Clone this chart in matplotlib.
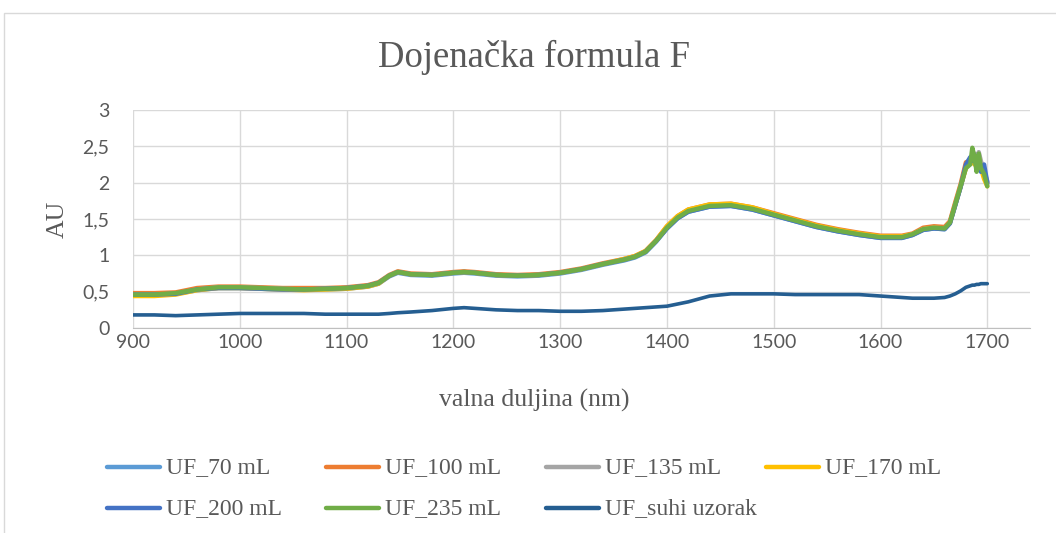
"""Dojenačka formula F - NIR spectra (UF samples vs dry sample)."""
import matplotlib
matplotlib.use("Agg")
import matplotlib.pyplot as plt
from matplotlib.lines import Line2D
from matplotlib.patches import Rectangle

# wavelength grid (nm)
wl = [900, 920, 940, 960, 980, 1000, 1020, 1040, 1060, 1080, 1100, 1120, 1130,
      1140, 1148, 1160, 1180, 1200, 1210, 1220, 1240, 1260, 1280, 1300, 1320,
      1340, 1360, 1370, 1380, 1390, 1400, 1410, 1420, 1440, 1460, 1480, 1500,
      1520, 1540, 1560, 1580, 1600, 1620, 1630, 1640, 1650, 1660, 1665, 1670,
      1675, 1680, 1684, 1686, 1688, 1690, 1692, 1694, 1697, 1700]

uf_70 = [0.46, 0.46, 0.47, 0.52, 0.55, 0.55, 0.54, 0.53, 0.53, 0.53, 0.54, 0.57, 0.61,
         0.71, 0.76, 0.73, 0.72, 0.75, 0.76, 0.75, 0.72, 0.71, 0.72, 0.75, 0.80,
         0.87, 0.93, 0.97, 1.04, 1.19, 1.37, 1.51, 1.60, 1.67, 1.68, 1.63, 1.55,
         1.47, 1.39, 1.33, 1.28, 1.24, 1.24, 1.28, 1.35, 1.37, 1.36, 1.44, 1.69,
         1.94, 2.22, 2.30, 2.35, 2.30, 2.22, 2.35, 2.20, 2.12, 1.98]
uf_100 = [0.48, 0.48, 0.49, 0.55, 0.57, 0.57, 0.56, 0.55, 0.55, 0.55, 0.56, 0.59, 0.63,
          0.73, 0.78, 0.75, 0.74, 0.77, 0.78, 0.77, 0.74, 0.73, 0.74, 0.77, 0.82,
          0.89, 0.95, 0.99, 1.06, 1.21, 1.40, 1.54, 1.63, 1.70, 1.71, 1.66, 1.58,
          1.50, 1.42, 1.36, 1.31, 1.27, 1.27, 1.30, 1.38, 1.40, 1.39, 1.47, 1.73,
          1.98, 2.28, 2.30, 2.32, 2.28, 2.25, 2.30, 2.22, 2.10, 2.00]
uf_135 = [0.46, 0.46, 0.47, 0.53, 0.56, 0.56, 0.55, 0.54, 0.53, 0.54, 0.55, 0.58, 0.62,
          0.72, 0.77, 0.74, 0.73, 0.76, 0.77, 0.76, 0.73, 0.72, 0.73, 0.76, 0.81,
          0.88, 0.94, 0.98, 1.05, 1.20, 1.38, 1.52, 1.61, 1.68, 1.69, 1.64, 1.56,
          1.48, 1.40, 1.34, 1.29, 1.25, 1.25, 1.29, 1.36, 1.38, 1.37, 1.45, 1.70,
          1.95, 2.22, 2.30, 2.38, 2.40, 2.28, 2.42, 2.30, 2.15, 2.02]
uf_170 = [0.44, 0.44, 0.46, 0.52, 0.55, 0.55, 0.54, 0.53, 0.52, 0.53, 0.54, 0.57, 0.61,
          0.72, 0.77, 0.74, 0.73, 0.76, 0.77, 0.76, 0.73, 0.72, 0.73, 0.76, 0.81,
          0.88, 0.95, 0.99, 1.06, 1.21, 1.40, 1.54, 1.63, 1.70, 1.71, 1.66, 1.57,
          1.49, 1.41, 1.35, 1.30, 1.26, 1.26, 1.29, 1.36, 1.38, 1.37, 1.45, 1.70,
          1.95, 2.20, 2.28, 2.30, 2.25, 2.28, 2.35, 2.20, 2.05, 1.95]
uf_200 = [0.46, 0.46, 0.47, 0.53, 0.55, 0.55, 0.54, 0.53, 0.53, 0.54, 0.55, 0.58, 0.62,
          0.72, 0.77, 0.74, 0.73, 0.76, 0.77, 0.76, 0.73, 0.72, 0.73, 0.76, 0.81,
          0.88, 0.94, 0.98, 1.05, 1.20, 1.37, 1.51, 1.60, 1.67, 1.68, 1.63, 1.55,
          1.47, 1.39, 1.33, 1.28, 1.24, 1.24, 1.28, 1.35, 1.37, 1.36, 1.44, 1.69,
          1.94, 2.25, 2.35, 2.30, 2.38, 2.20, 2.30, 2.15, 2.25, 2.00]
uf_235 = [0.46, 0.46, 0.48, 0.53, 0.56, 0.56, 0.55, 0.54, 0.53, 0.54, 0.55, 0.58, 0.62,
          0.72, 0.77, 0.74, 0.73, 0.76, 0.77, 0.76, 0.73, 0.72, 0.73, 0.76, 0.81,
          0.88, 0.94, 0.98, 1.05, 1.20, 1.38, 1.52, 1.61, 1.68, 1.69, 1.64, 1.56,
          1.48, 1.40, 1.34, 1.29, 1.25, 1.25, 1.29, 1.36, 1.38, 1.37, 1.45, 1.70,
          1.95, 2.20, 2.25, 2.48, 2.35, 2.15, 2.40, 2.20, 2.12, 1.95]
uf_suhi = [0.18, 0.18, 0.17, 0.18, 0.19, 0.20, 0.20, 0.20, 0.20, 0.19, 0.19, 0.19, 0.19,
           0.20, 0.21, 0.22, 0.24, 0.27, 0.28, 0.27, 0.25, 0.24, 0.24, 0.23, 0.23,
           0.24, 0.26, 0.27, 0.28, 0.29, 0.30, 0.33, 0.36, 0.44, 0.47, 0.47, 0.47,
           0.46, 0.46, 0.46, 0.46, 0.44, 0.42, 0.41, 0.41, 0.41, 0.42, 0.44, 0.47,
           0.51, 0.56, 0.58, 0.59, 0.59, 0.60, 0.60, 0.61, 0.61, 0.61]

labels = ["UF_70 mL", "UF_100 mL", "UF_135 mL", "UF_170 mL",
          "UF_200 mL", "UF_235 mL", "UF_suhi uzorak"]
series = [uf_70, uf_100, uf_135, uf_170, uf_200, uf_235, uf_suhi]
colors = ["#5B9BD5", "#ED7D31", "#A5A5A5", "#FFC000", "#4472C4", "#70AD47", "#255E91"]
x_ticks = [900, 1000, 1100, 1200, 1300, 1400, 1500, 1600, 1700]
y_ticks = [0, 0.5, 1, 1.5, 2, 2.5, 3]
y_ticklabels = ["0", "0,5", "1", "1,5", "2", "2,5", "3"]

W, H = 1056, 533
TXT = "#595959"
SERIF = "Liberation Serif"
SANS = "Lato"

fig = plt.figure(figsize=(W / 100, H / 100), dpi=100)
fig.patches.append(Rectangle((4 / W, -0.1), 1.1, 1 - 13 / H + 0.1, transform=fig.transFigure,
                             fill=False, edgecolor="#D9D9D9", lw=1.0))

ax = fig.add_axes([133 / W, 1 - 328 / H, (1030 - 133) / W, (328 - 110) / H])
for i, (ys, c) in enumerate(zip(series, colors)):
    ax.plot(wl, ys, color=c, lw=3.2 if i < 6 else 2.6, solid_capstyle="round", zorder=3 + i)

ax.set_xlim(900, 1740)
ax.set_ylim(0, 3)
ax.set_xticks(x_ticks)
ax.set_yticks(y_ticks)
ax.set_yticklabels(y_ticklabels)
ax.grid(True, color="#D9D9D9", lw=1.0)
ax.set_axisbelow(True)
for s in ["top", "right", "left"]:
    ax.spines[s].set_visible(False)
ax.spines["bottom"].set_color("#BFBFBF")
ax.tick_params(length=0, colors=TXT, labelsize=14)
ax.tick_params(axis="y", pad=17)
ax.tick_params(axis="x", pad=4)
for lab in ax.get_xticklabels() + ax.get_yticklabels():
    lab.set_fontfamily(SANS)

fig.text(534 / W, 1 - 400 / H, "valna duljina (nm)", family=SERIF, fontsize=18.5,
         color=TXT, ha="center", va="center")
fig.text(58 / W, 1 - 219 / H, "AU", family=SERIF, fontsize=18.5, color=TXT,
         ha="center", va="center", rotation=90)
fig.text(534 / W, 1 - 57 / H, "Dojenačka formula F", family=SERIF, fontsize=26.5,
         color=TXT, ha="center", va="center")

# manual legend, Excel-style equal columns
col_x = [107, 326, 546, 766]
row_y = [467, 508]
for k, (lab, c) in enumerate(zip(labels, colors)):
    r, cidx = divmod(k, 4)
    x0, y0 = col_x[cidx], row_y[r]
    fig.add_artist(Line2D([x0 / W, (x0 + 53) / W], [1 - y0 / H, 1 - y0 / H],
                          transform=fig.transFigure, color=c, lw=3.2, solid_capstyle="round"))
    fig.text((x0 + 59) / W, 1 - (y0 + 1) / H, lab, family=SERIF, fontsize=17, color=TXT,
             ha="left", va="center")

fig.savefig("out.png", dpi=100)
